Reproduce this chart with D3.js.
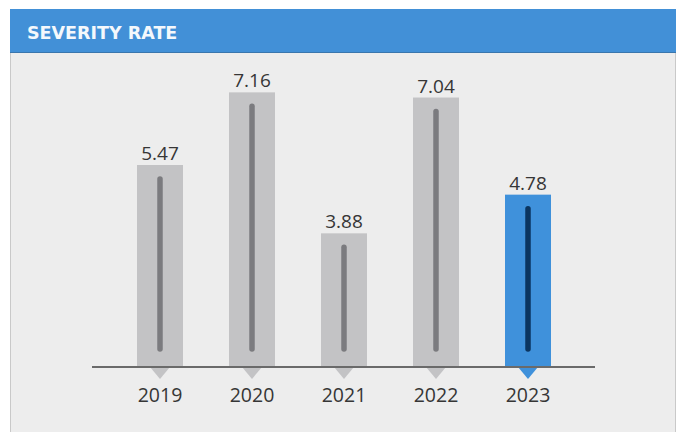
<!DOCTYPE html>
<html>
<head>
<meta charset="utf-8">
<script src="https://cdn.jsdelivr.net/npm/d3@7"></script>
<style>
  html, body { margin: 0; padding: 0; background: #ffffff; }
  svg { display: block; }
</style>
</head>
<body>
<svg id="chart" width="679" height="432"></svg>
<script>
// Severity rate by year
const years = ["2019", "2020", "2021", "2022", "2023"];
const severity = [5.47, 7.16, 3.88, 7.04, 4.78];
const highlightYear = "2023";
const title = "SEVERITY RATE";

const W = 679, H = 432;
const bodyFont = "'Open Sans', 'Noto Sans', sans-serif";
const titleFont = "'DejaVu Sans', sans-serif";
const svg = d3.select("#chart");

// panel
svg.append("rect")
  .attr("x", 10.5).attr("y", 9.5)
  .attr("width", 665).attr("height", H)
  .attr("fill", "#ededed")
  .attr("stroke", "#c9c9c9").attr("stroke-width", 1);

// header band
svg.append("rect")
  .attr("x", 10).attr("y", 9)
  .attr("width", 666).attr("height", 44)
  .attr("fill", "#4290d7");
svg.append("line")
  .attr("x1", 10).attr("x2", 676).attr("y1", 52.5).attr("y2", 52.5)
  .attr("stroke", "#3a76ad").attr("stroke-width", 1);
svg.append("text")
  .attr("x", 27).attr("y", 39)
  .attr("fill", "#f4f8fc")
  .style("font-family", titleFont)
  .style("font-size", "17.5px").style("font-weight", 700)
  .text(title);

// scales
const baseline = 367;
const x = d3.scaleBand()
  .domain(years)
  .range([114, 574])
  .paddingInner(0.5)
  .paddingOuter(0.25);
const y = d3.scaleLinear()
  .domain([0.77, 7.75])
  .range([baseline, baseline - 300]);

const data = years.map((yr, i) => ({ year: yr, value: severity[i] }));
const colorFor = d => d.year === highlightYear ? "#3f91db" : "#c3c3c5";
const lineFor = d => d.year === highlightYear ? "#0b3560" : "#7b7b7f";

const g = svg.append("g");

// bars
g.selectAll("rect.bar")
  .data(data)
  .join("rect")
  .attr("class", "bar")
  .attr("x", d => x(d.year))
  .attr("y", d => y(d.value))
  .attr("width", x.bandwidth())
  .attr("height", d => baseline - y(d.value))
  .attr("fill", colorFor);

// pointer under each bar
g.selectAll("path.pointer")
  .data(data)
  .join("path")
  .attr("class", "pointer")
  .attr("d", d => {
    const cx = x(d.year) + x.bandwidth() / 2;
    return `M${cx - 10},${baseline} L${cx + 10},${baseline} L${cx},${baseline + 12} Z`;
  })
  .attr("fill", colorFor);

// inner stripe
g.selectAll("line.stripe")
  .data(data)
  .join("line")
  .attr("class", "stripe")
  .attr("x1", d => x(d.year) + x.bandwidth() / 2)
  .attr("x2", d => x(d.year) + x.bandwidth() / 2)
  .attr("y1", d => y(d.value) + 14)
  .attr("y2", baseline - 18)
  .attr("stroke", lineFor)
  .attr("stroke-width", 5.5)
  .attr("stroke-linecap", "round");

// axis baseline
svg.append("line")
  .attr("x1", 92).attr("x2", 595)
  .attr("y1", baseline).attr("y2", baseline)
  .attr("stroke", "#6a6a6a").attr("stroke-width", 2);

// value labels
g.selectAll("text.value")
  .data(data)
  .join("text")
  .attr("class", "value")
  .attr("x", d => x(d.year) + x.bandwidth() / 2)
  .attr("y", d => y(d.value) - 5)
  .attr("text-anchor", "middle")
  .attr("fill", "#363636")
  .style("font-family", bodyFont)
  .style("font-size", "19px")
  .text(d => d.value.toFixed(2));

// year labels
const xAxis = d3.axisBottom(x).tickSize(0).tickPadding(0);
const axisG = svg.append("g")
  .attr("transform", `translate(0,${baseline})`)
  .call(xAxis);
axisG.select(".domain").remove();
axisG.selectAll("text")
  .attr("y", 35)
  .attr("dy", 0)
  .attr("fill", "#363636")
  .style("font-family", bodyFont)
  .style("font-size", "19.5px");
</script>
</body>
</html>
